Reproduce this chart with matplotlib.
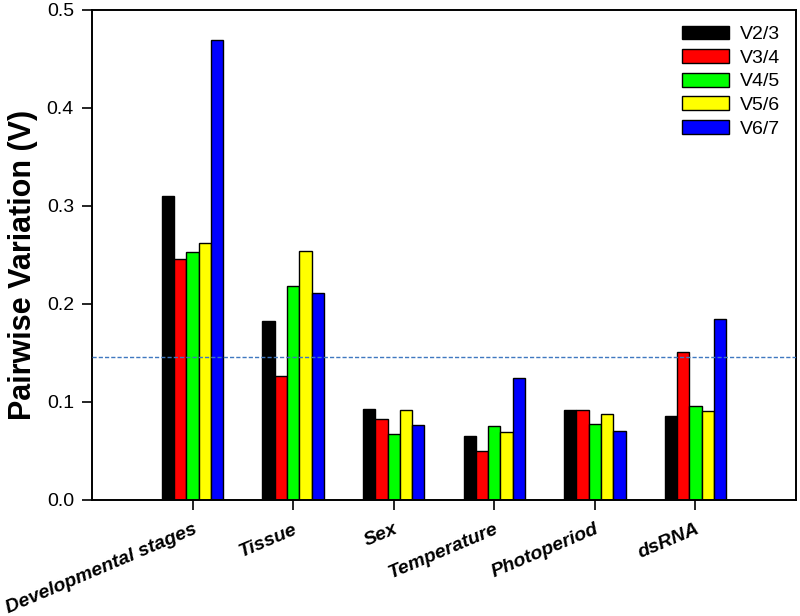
import matplotlib
matplotlib.use("Agg")
import matplotlib.pyplot as plt
from matplotlib.patches import Patch
import numpy as np

plt.rcParams['font.family'] = ['Liberation Sans', 'DejaVu Sans']

categories = ["Developmental stages", "Tissue", "Sex", "Temperature", "Photoperiod", "dsRNA"]
series_names = ["V2/3", "V3/4", "V4/5", "V5/6", "V6/7"]
v23 = [0.310, 0.183, 0.093, 0.065, 0.092, 0.086]
v34 = [0.246, 0.127, 0.083, 0.050, 0.092, 0.151]
v45 = [0.253, 0.218, 0.067, 0.076, 0.078, 0.096]
v56 = [0.262, 0.254, 0.092, 0.069, 0.088, 0.091]
v67 = [0.469, 0.211, 0.077, 0.124, 0.070, 0.185]
threshold = 0.146
colors = ["#000000", "#ff0000", "#00ff00", "#ffff00", "#0000ff"]

fig = plt.figure(figsize=(8, 6.16), dpi=100)
ax = fig.add_axes([92/800, 1 - 500/616, (796-92)/800, (500-10)/616])

x = np.arange(1, len(categories) + 1)
w = 0.122
allv = [v23, v34, v45, v56, v67]
for i, (vals, c, name) in enumerate(zip(allv, colors, series_names)):
    ax.bar(x + (i - 2) * w, vals, width=w, color=c, edgecolor='black', linewidth=1.0, label=name, zorder=2)

ax.axhline(threshold, color='#3f78c0', linestyle=(0, (3, 1.5)), linewidth=1.0, zorder=3)

ax.set_xlim(0, 7)
ax.set_ylim(0, 0.5)
ax.set_yticks([0.0, 0.1, 0.2, 0.3, 0.4, 0.5])
ax.set_yticklabels(["0.0", "0.1", "0.2", "0.3", "0.4", "0.5"], fontsize=14)
ax.set_xticks(x)
ax.set_xticklabels(categories, fontsize=14, fontweight='bold', fontstyle='italic',
                   rotation=23, ha='right', rotation_mode='anchor')
ax.tick_params(axis='both', direction='out', length=7, width=1.2, top=False, right=False)
ax.tick_params(axis='y', pad=6)
ax.tick_params(axis='x', pad=8)
for s in ax.spines.values():
    s.set_linewidth(1.4)
ax.set_ylabel("Pairwise Variation (V)", fontsize=22, fontweight='bold')
ax.yaxis.set_label_coords(-0.076, 0.48)

handles = [Patch(facecolor=c, edgecolor='black', linewidth=1.0) for c in colors]
leg = ax.legend(handles, series_names, loc='upper right', frameon=False, fontsize=14,
                handlelength=2.4, handleheight=0.72, labelspacing=0.3, handletextpad=0.6,
                borderaxespad=0.4)

fig.savefig("out.png", dpi=100)
